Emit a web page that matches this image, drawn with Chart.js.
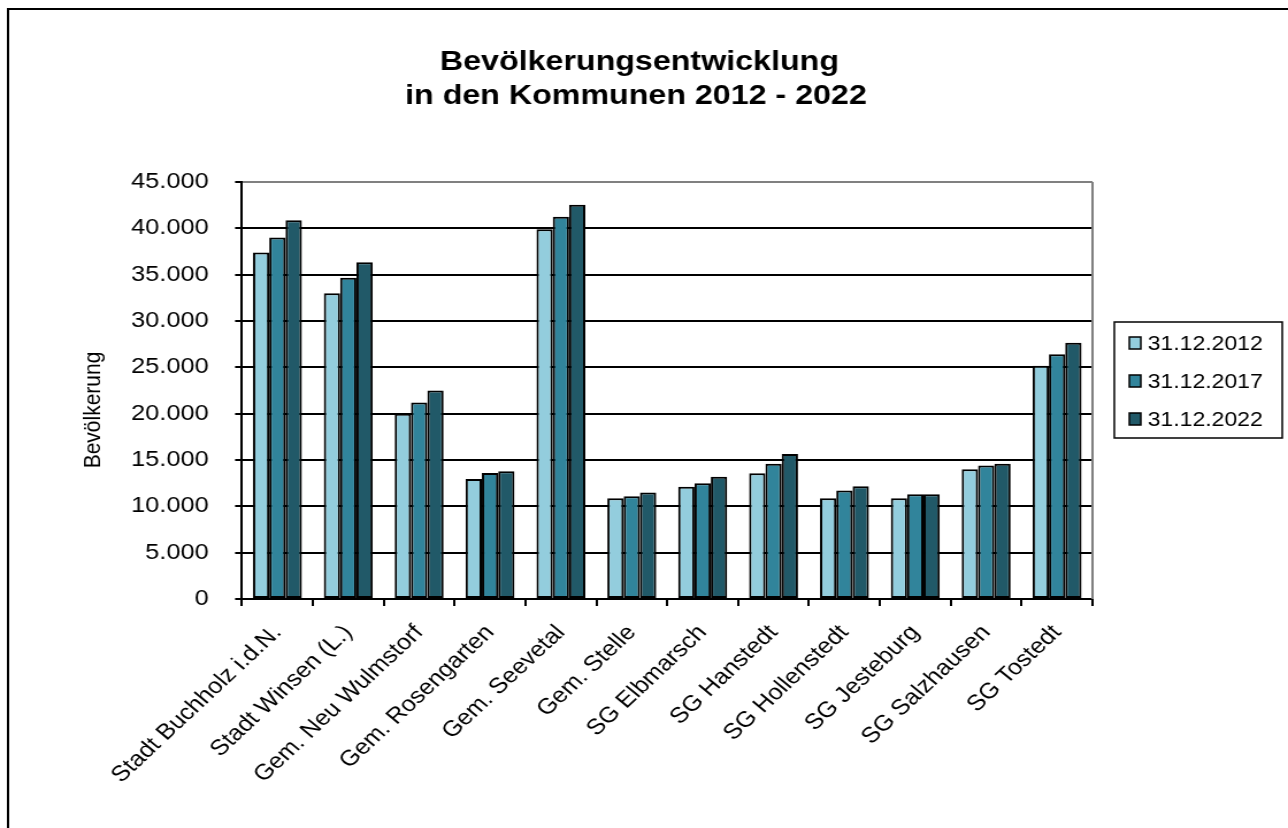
<!DOCTYPE html>
<html>
<head>
<meta charset="utf-8">
<script src="https://cdn.jsdelivr.net/npm/chart.js@4"></script>
<style>
  body { margin: 0; background: #fff; }
  canvas { display: block; }
</style>
</head>
<body>
<!-- the original picture is stretched sideways, so the canvas is too -->
<canvas id="chart" width="1120" height="828" style="width:1288px;height:828px"></canvas>
<script>
const categories = ['Stadt Buchholz i.d.N.', 'Stadt Winsen (L.)', 'Gem. Neu Wulmstorf', 'Gem. Rosengarten',
  'Gem. Seevetal', 'Gem. Stelle', 'SG Elbmarsch', 'SG Hanstedt', 'SG Hollenstedt', 'SG Jesteburg',
  'SG Salzhausen', 'SG Tostedt'];
const seriesNames = ['31.12.2012', '31.12.2017', '31.12.2022'];
const values2012 = [37400, 33000, 20000, 12950, 39900, 10860, 12120, 13560, 10860, 10860, 14000, 25180];
const values2017 = [39000, 34670, 21200, 13600, 41260, 11100, 12500, 14600, 11700, 11300, 14400, 26400];
const values2022 = [40860, 36330, 22500, 13780, 42550, 11500, 13200, 15650, 12160, 11300, 14600, 27660];
const yTicks = [0, 5000, 10000, 15000, 20000, 25000, 30000, 35000, 40000, 45000];
const titleLines = ['Bevölkerungsentwicklung', 'in den Kommunen 2012 - 2022'];
const yTitle = 'Bevölkerung';
const colors = ['#93CDDD', '#31849B', '#215968'];

const FONT = '"Liberation Sans", Arial, sans-serif';

function formatNumber(v) {
  return String(v).replace(/\B(?=(\d{3})+(?!\d))/g, '.');
}

// title, y axis title, legend box and outer frame
const decorations = {
  id: 'decorations',
  afterDraw(chart) {
    const ctx = chart.ctx;
    const area = chart.chartArea;
    ctx.save();

    // outer frame
    ctx.strokeStyle = '#000';
    ctx.lineWidth = 2;
    ctx.beginPath();
    ctx.moveTo(7, 830);
    ctx.lineTo(7, 9);
    ctx.lineTo(1125, 9);
    ctx.stroke();

    // right border of plot area
    ctx.strokeStyle = '#808080';
    ctx.lineWidth = 2;
    ctx.beginPath();
    ctx.moveTo(area.right, area.top);
    ctx.lineTo(area.right, area.bottom);
    ctx.stroke();

    ctx.fillStyle = '#000';
    ctx.textAlign = 'center';
    ctx.textBaseline = 'alphabetic';
    ctx.font = 'bold 28px ' + FONT;
    ctx.fillText(titleLines[0], 556, 70);
    ctx.fillText(titleLines[1], 553, 104);

    ctx.save();
    ctx.translate(81, 410);
    ctx.rotate(-Math.PI / 2);
    ctx.font = '21px ' + FONT;
    ctx.textBaseline = 'middle';
    ctx.fillText(yTitle, 0, 0);
    ctx.restore();

    // legend
    ctx.strokeStyle = '#000';
    ctx.lineWidth = 1.5;
    ctx.strokeRect(969, 322, 146, 116);
    ctx.font = '20px ' + FONT;
    ctx.textAlign = 'left';
    ctx.textBaseline = 'middle';
    chart.data.datasets.forEach((ds, i) => {
      const cy = 343 + i * 38;
      ctx.fillStyle = ds.backgroundColor;
      ctx.fillRect(982, cy - 6, 10, 12);
      ctx.strokeRect(982, cy - 6, 10, 12);
      ctx.fillStyle = '#000';
      ctx.fillText(ds.label, 998, cy + 1);
    });
    ctx.restore();
  }
};

const datasets = [values2012, values2017, values2022].map((vals, i) => ({
  label: seriesNames[i],
  data: vals,
  backgroundColor: colors[i],
  borderColor: '#000',
  borderWidth: 2,
  borderSkipped: false,
  categoryPercentage: 0.69,
  barPercentage: 1.0
}));

new Chart(document.getElementById('chart'), {
  type: 'bar',
  data: { labels: categories, datasets: datasets },
  options: {
    responsive: false,
    animation: false,
    devicePixelRatio: 1,
    layout: { padding: { left: 0, top: 182, right: 170, bottom: 0 } },
    plugins: {
      legend: { display: false },
      title: { display: false },
      tooltip: { enabled: false }
    },
    scales: {
      x: {
        afterFit(scale) { scale.height = 229; },
        border: { color: '#000', width: 2 },
        grid: { drawOnChartArea: false, color: '#000', lineWidth: 2, tickLength: 7, offset: true },
        ticks: {
          color: '#000',
          font: { family: FONT, size: 22 },
          minRotation: 47,
          maxRotation: 47,
          autoSkip: false,
          padding: 14
        }
      },
      y: {
        min: 0,
        max: 45000,
        afterFit(scale) { scale.width = 210.4; },
        afterBuildTicks(scale) { scale.ticks = yTicks.map(v => ({ value: v })); },
        border: { color: '#000', width: 2 },
        grid: {
          color: ctx => (ctx.tick && ctx.tick.value === 45000 ? '#808080' : '#000'),
          tickColor: '#000',
          lineWidth: 2,
          tickLength: 6
        },
        ticks: {
          color: '#000',
          font: { family: FONT, size: 22 },
          padding: 23,
          callback: v => formatNumber(v)
        }
      }
    }
  },
  plugins: [decorations]
});
</script>
</body>
</html>
